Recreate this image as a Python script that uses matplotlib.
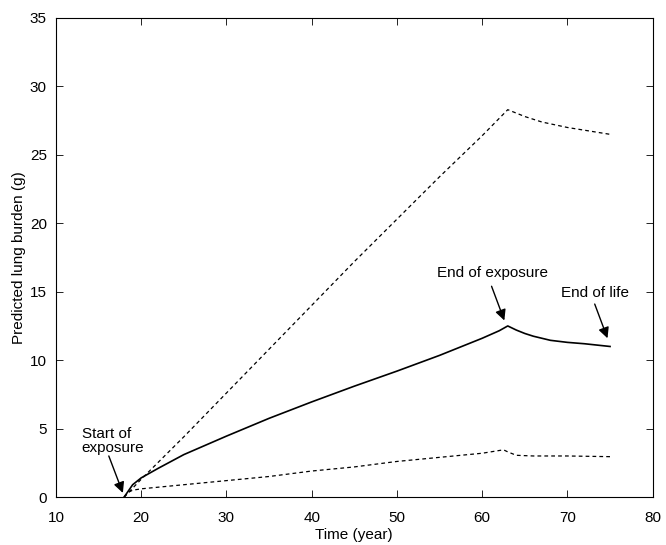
import matplotlib
matplotlib.use("Agg")
import matplotlib.pyplot as plt

plt.rcParams['font.family'] = ['Liberation Sans', 'DejaVu Sans']

# middle (solid) estimate
t_mid = [18, 19, 20, 22, 25, 30, 35, 40, 45, 50, 55, 60, 62, 63, 64, 65, 66, 68, 70, 72, 75]
y_mid = [0, 0.9, 1.4, 2.1, 3.1, 4.45, 5.75, 6.95, 8.1, 9.2, 10.35, 11.6, 12.15, 12.5, 12.2, 11.95, 11.75, 11.45, 11.3, 11.2, 11.0]

# upper bound (dashed)
t_up = [18, 20, 25, 30, 35, 40, 45, 50, 55, 60, 63, 65, 67, 70, 72, 75]
y_up = [0, 1.3, 4.4, 7.6, 10.8, 14.0, 17.2, 20.3, 23.4, 26.4, 28.3, 27.8, 27.4, 27.0, 26.8, 26.5]

# lower bound (dashed)
t_lo = [18, 18.5, 19, 20, 25, 30, 35, 40, 45, 50, 55, 60, 62.5, 63, 64, 66, 70, 75]
y_lo = [0, 0.35, 0.5, 0.6, 0.9, 1.2, 1.5, 1.9, 2.2, 2.6, 2.9, 3.2, 3.45, 3.3, 3.05, 3.0, 3.0, 2.95]

fig = plt.figure(figsize=(6.66, 5.45), dpi=100)
ax = fig.add_axes([0.084, 0.088, 0.896, 0.879])

ax.plot(t_up, y_up, color='k', lw=0.9, ls=(0, (3, 2.5)))
ax.plot(t_mid, y_mid, color='k', lw=1.2)
ax.plot(t_lo, y_lo, color='k', lw=0.9, ls=(0, (3, 2.5)))

arrow = dict(arrowstyle='-|>', color='k', lw=1, mutation_scale=16, shrinkA=0, shrinkB=0)
ax.annotate('', xy=(17.85, 0.3), xytext=(16.2, 3.0), arrowprops=arrow)
ax.text(13.0, 4.1, 'Start of\nexposure', fontsize=11, va='center', ha='left', linespacing=1.05)
ax.annotate('', xy=(62.6, 12.9), xytext=(61.1, 15.4), arrowprops=arrow)
ax.text(61.2, 16.4, 'End of exposure', fontsize=11, va='center', ha='center')
ax.annotate('', xy=(74.7, 11.6), xytext=(73.2, 14.1), arrowprops=arrow)
ax.text(73.2, 14.9, 'End of life', fontsize=11, va='center', ha='center')

ax.set_xlim(10, 80)
ax.set_ylim(0, 35)
ax.set_xticks(range(10, 81, 10))
ax.set_yticks(range(0, 36, 5))
ax.tick_params(direction='in', top=True, right=True, labelsize=11, length=5, width=0.6)
ax.tick_params(axis='x', pad=10)
ax.tick_params(axis='y', pad=6.5)
for s in ax.spines.values():
    s.set_linewidth(0.8)
ax.set_xlabel('Time (year)', fontsize=11, labelpad=2)
ax.set_ylabel('Predicted lung burden (g)', fontsize=11, labelpad=3)

fig.savefig('out.png', dpi=100)
